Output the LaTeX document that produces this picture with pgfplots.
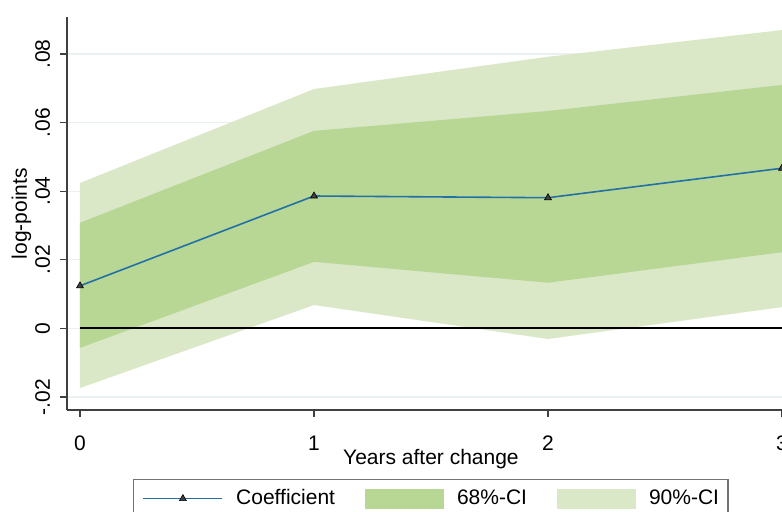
\documentclass[border=0pt]{standalone}
\usepackage{pgfplots}
\pgfplotsset{compat=1.18}
\usepackage{fontspec}
\setmainfont{Liberation Sans}
\definecolor{coefblue}{HTML}{2271A6}
\definecolor{ciDark}{HTML}{B8D795}
\definecolor{ciLight}{HTML}{DBE8C8}
\definecolor{gridc}{HTML}{EAF1F2}
\definecolor{axc}{HTML}{404040}
\newcommand{\fs}{\fontsize{10.5}{12.6}\selectfont}
\pgfplotsset{
  mylineleg/.style={legend image code/.code={\draw[##1, mark repeat=2, mark phase=2] plot coordinates {(0pt,0pt) (19.75pt,0pt) (39.5pt,0pt)};}},
  myboxleg/.style={legend image code/.code={\fill[##1] (0pt,-5pt) rectangle (39.5pt,5pt);}},
}
\begin{document}
\begin{tikzpicture}[font=\fs]
\begin{axis}[
  name=ax,
  scale only axis,
  width=357.5pt, height=196.5pt,
  xmin=-0.0555, xmax=3,
  ymin=-0.0238, ymax=0.0908,
  axis lines=left,
  axis line style={draw=axc, line width=0.75pt, -},
  xtick={0,1,2,3}, xticklabels={0,1,2,3},
  ytick={-0.02,0,0.02,0.04,0.06,0.08},
  yticklabels={-.02,0,.02,.04,.06,.08},
  scaled y ticks=false, scaled x ticks=false,
  tick align=outside,
  major tick length=3.5pt,
  tick style={draw=axc, line width=0.6pt},
  ymajorgrids,
  grid style={draw=gridc, line width=0.6pt},
  xticklabel style={font=\fs, anchor=north, yshift=-6pt},
  yticklabel style={font=\fs, xshift=-5pt, rotate=90, anchor=base},
  xlabel={Years after change},
  ylabel={log-points},
  xlabel style={font=\fs, at={(axis description cs:0.509,0)}, anchor=base, yshift=-27.5pt},
  ylabel style={font=\fs, at={([xshift=-20pt]axis description cs:0,0.5)}, anchor=base},
  legend columns=3,
  legend cell align=left,
  legend style={
    at={(axis description cs:0.0923,-0.1756)}, anchor=north west,
    draw=gray!90!black, line width=0.6pt, font=\fs,
    inner xsep=4.5pt, inner ysep=4.5pt,
    nodes={inner sep=0pt},
    /tikz/every odd column/.append style={column sep=6.5pt},
    /tikz/every even column/.append style={column sep=15pt},
  },
]
% 90% CI
\addplot[fill=ciLight, draw=none, forget plot] coordinates {
  (0,0.0424) (1,0.0698) (2,0.0792) (3,0.0870)
  (3,0.0062) (2,-0.0031) (1,0.0068) (0,-0.0174)} -- cycle;
% 68% CI
\addplot[fill=ciDark, draw=none, forget plot] coordinates {
  (0,0.0308) (1,0.0576) (2,0.0634) (3,0.0710)
  (3,0.0222) (2,0.0133) (1,0.0194) (0,-0.0057)} -- cycle;
% zero line
\addplot[black, line width=1pt, forget plot] coordinates {(0,0) (3,0)};
% coefficient
\addplot[coefblue, line width=0.8pt, mark=triangle*, mark size=2pt,
  mark options={fill=axc, draw=black, line width=0.3pt, solid}, mylineleg]
  coordinates {(0,0.0124) (1,0.0386) (2,0.0381) (3,0.0467)};
\addlegendentry{Coefficient}
\addlegendimage{fill=ciDark, draw=none, myboxleg}
\addlegendentry{68\%-CI}
\addlegendimage{fill=ciLight, draw=none, myboxleg}
\addlegendentry{90\%-CI}
\end{axis}
\pgfresetboundingbox
\path[use as bounding box] ([xshift=-33.5pt,yshift=-51pt]ax.south west) rectangle ([yshift=8.5pt]ax.north east);
\end{tikzpicture}
\end{document}
